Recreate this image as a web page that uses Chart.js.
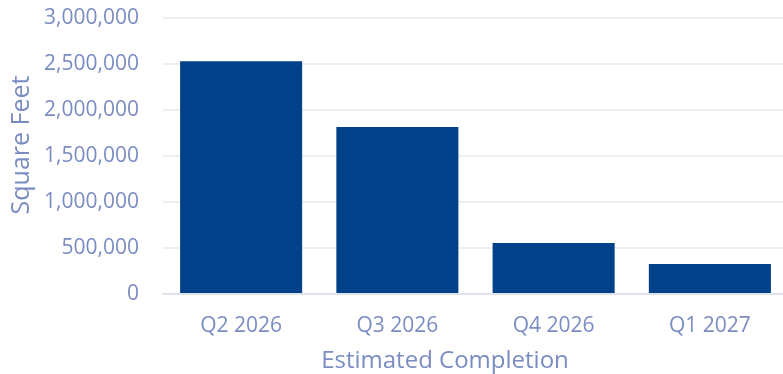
<!DOCTYPE html>
<html>
<head>
<meta charset="utf-8">
<script src="https://cdn.jsdelivr.net/npm/chart.js@4"></script>
<style>
  html, body { margin: 0; padding: 0; background: #ffffff; overflow: hidden; }
  /* plot runs a few px past the right edge in the original */
  #wrap { width: 783px; height: 374px; overflow: hidden; }
  canvas { display: block; }
</style>
</head>
<body>
<div id="wrap"><canvas id="chart" width="788" height="374"></canvas></div>
<script>
const categories = ["Q2 2026", "Q3 2026", "Q4 2026", "Q1 2027"];
const squareFeet = [2530000, 1815000, 555000, 327000];
const yTicks = [0, 500000, 1000000, 1500000, 2000000, 2500000, 3000000];

const xTitle = "Estimated Completion";
const yTitle = "Square Feet";

const textColor = "#7b8cc2";

// axis titles sit a little off the plot centre in the original, so draw them here
const axisTitles = {
  id: "axisTitles",
  afterDraw(chart) {
    const c = chart.ctx;
    c.save();
    c.fillStyle = textColor;
    c.textAlign = "center";
    c.textBaseline = "alphabetic";
    c.font = '24px "Open Sans"';
    c.fillText(xTitle, 445, 368);
    c.translate(29, 145);
    c.rotate(-Math.PI / 2);
    c.font = '25px "Open Sans"';
    c.fillText(yTitle, 0, 0);
    c.restore();
  },
};

const ctx = document.getElementById("chart");

new Chart(ctx, {
  type: "bar",
  data: {
    labels: categories,
    datasets: [
      {
        label: yTitle,
        data: squareFeet,
        backgroundColor: "#004189",
        categoryPercentage: 1,
        barPercentage: 0.781,
      },
    ],
  },
  options: {
    responsive: false,
    animation: false,
    layout: { padding: { top: 18, right: 0, bottom: 2, left: 0 } },
    plugins: {
      legend: { display: false },
      tooltip: { enabled: false },
    },
    scales: {
      x: {
        afterFit: (axis) => {
          axis.height = 78;
          axis.paddingLeft = 0;
          axis.paddingRight = 0;
        },
        grid: { display: false, drawTicks: false },
        border: { color: "#dfe3ec", width: 2 },
        ticks: {
          color: textColor,
          font: { family: "Open Sans", size: 21 },
          padding: 19,
          maxRotation: 0,
        },
      },
      y: {
        min: 0,
        max: 3000000,
        afterBuildTicks: (axis) => {
          axis.ticks = yTicks.map((v) => ({ value: v }));
        },
        afterFit: (axis) => {
          axis.width = 163;
          axis.paddingTop = 0;
          axis.paddingBottom = 0;
        },
        grid: { color: "#efefef", lineWidth: 2, drawTicks: false },
        border: { display: false },
        ticks: {
          color: textColor,
          font: { family: "Open Sans", size: 21 },
          padding: 24,
          callback: (v) => v.toLocaleString("en-US"),
        },
      },
    },
  },
  plugins: [axisTitles],
});
</script>
</body>
</html>
